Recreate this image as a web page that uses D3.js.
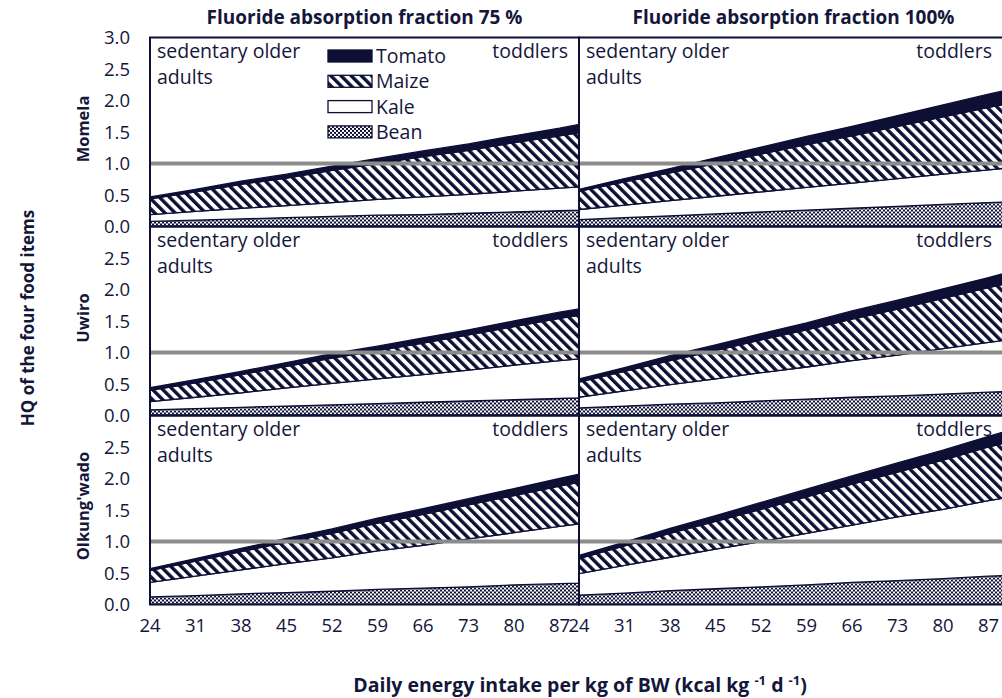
<!DOCTYPE html>
<html>
<head>
<meta charset="utf-8">
<script src="https://cdn.jsdelivr.net/npm/d3@7"></script>
<style>
  body { margin: 0; background: #fff; }
  text { font-family: "Open Sans", "Noto Sans", sans-serif; fill: #14163a; }
</style>
</head>
<body>
<div id="chart"></div>
<script>
// x values (daily energy intake, kcal/kg/d) where HQ values were read
const intake = [24, 31, 38, 45, 52, 59, 66, 73, 80, 87, 90];
const xTicks = [24, 31, 38, 45, 52, 59, 66, 73, 80, 87];
const sites = ["Momela", "Uwiro", "Olkung'wado"];
const fractions = ["Fluoride absorption fraction 75 %", "Fluoride absorption fraction 100%"];
const foods = ["Bean", "Kale", "Maize", "Tomato"]; // stacked bottom -> top
const legendFoods = ["Tomato", "Maize", "Kale", "Bean"];

// Momela
const momela75Bean   = [0.08, 0.10, 0.12, 0.14, 0.16, 0.18, 0.19, 0.21, 0.23, 0.25, 0.26];
const momela75Kale   = [0.11, 0.14, 0.17, 0.19, 0.22, 0.25, 0.28, 0.30, 0.33, 0.36, 0.37];
const momela75Maize  = [0.25, 0.31, 0.38, 0.44, 0.51, 0.57, 0.64, 0.70, 0.77, 0.83, 0.86];
const momela75Tomato = [0.03, 0.04, 0.05, 0.06, 0.07, 0.08, 0.09, 0.10, 0.11, 0.12, 0.13];
const momela100Bean   = [0.11, 0.14, 0.17, 0.20, 0.23, 0.26, 0.29, 0.32, 0.35, 0.38, 0.39];
const momela100Kale   = [0.16, 0.20, 0.24, 0.28, 0.32, 0.36, 0.40, 0.44, 0.48, 0.52, 0.54];
const momela100Maize  = [0.29, 0.37, 0.44, 0.52, 0.60, 0.68, 0.75, 0.83, 0.91, 0.99, 1.02];
const momela100Tomato = [0.03, 0.05, 0.07, 0.09, 0.11, 0.13, 0.15, 0.17, 0.19, 0.21, 0.22];
// Uwiro
const uwiro75Bean   = [0.09, 0.11, 0.13, 0.15, 0.17, 0.19, 0.21, 0.23, 0.25, 0.27, 0.28];
const uwiro75Kale   = [0.13, 0.18, 0.23, 0.29, 0.34, 0.39, 0.44, 0.49, 0.55, 0.60, 0.62];
const uwiro75Maize  = [0.18, 0.23, 0.29, 0.34, 0.40, 0.45, 0.50, 0.56, 0.61, 0.67, 0.69];
const uwiro75Tomato = [0.04, 0.05, 0.05, 0.06, 0.07, 0.07, 0.08, 0.08, 0.09, 0.10, 0.10];
const uwiro100Bean   = [0.12, 0.15, 0.18, 0.20, 0.23, 0.26, 0.29, 0.31, 0.34, 0.37, 0.38];
const uwiro100Kale   = [0.17, 0.24, 0.31, 0.38, 0.45, 0.51, 0.58, 0.65, 0.72, 0.79, 0.82];
const uwiro100Maize  = [0.24, 0.31, 0.38, 0.45, 0.52, 0.59, 0.66, 0.73, 0.80, 0.87, 0.90];
const uwiro100Tomato = [0.05, 0.06, 0.08, 0.09, 0.10, 0.11, 0.13, 0.14, 0.15, 0.16, 0.17];
// Olkung'wado
const olk75Bean   = [0.12, 0.14, 0.17, 0.19, 0.21, 0.24, 0.26, 0.28, 0.31, 0.33, 0.34];
const olk75Kale   = [0.23, 0.31, 0.38, 0.46, 0.53, 0.61, 0.68, 0.76, 0.83, 0.91, 0.94];
const olk75Maize  = [0.19, 0.24, 0.29, 0.34, 0.39, 0.44, 0.49, 0.54, 0.59, 0.64, 0.66];
const olk75Tomato = [0.03, 0.04, 0.05, 0.06, 0.07, 0.08, 0.09, 0.10, 0.11, 0.12, 0.13];
const olk100Bean   = [0.15, 0.18, 0.22, 0.25, 0.28, 0.31, 0.35, 0.38, 0.41, 0.45, 0.46];
const olk100Kale   = [0.34, 0.44, 0.53, 0.63, 0.72, 0.82, 0.91, 1.01, 1.10, 1.20, 1.24];
const olk100Maize  = [0.24, 0.31, 0.38, 0.44, 0.51, 0.58, 0.65, 0.71, 0.78, 0.85, 0.88];
const olk100Tomato = [0.05, 0.06, 0.08, 0.09, 0.11, 0.12, 0.13, 0.15, 0.16, 0.17, 0.18];

const panels = [
  { row: 0, col: 0, series: [momela75Bean, momela75Kale, momela75Maize, momela75Tomato], legend: true },
  { row: 0, col: 1, series: [momela100Bean, momela100Kale, momela100Maize, momela100Tomato] },
  { row: 1, col: 0, series: [uwiro75Bean, uwiro75Kale, uwiro75Maize, uwiro75Tomato] },
  { row: 1, col: 1, series: [uwiro100Bean, uwiro100Kale, uwiro100Maize, uwiro100Tomato] },
  { row: 2, col: 0, series: [olk75Bean, olk75Kale, olk75Maize, olk75Tomato] },
  { row: 2, col: 1, series: [olk100Bean, olk100Kale, olk100Maize, olk100Tomato] },
];

const width = 1002, height = 698;
const navy = "#0d0f35";
const colX = [150, 579];
const rowY = [37.5, 226.5, 415.5];
const pw = 429, ph = 189;

const svg = d3.select("#chart").append("svg")
  .attr("width", width).attr("height", height)
  .attr("viewBox", [0, 0, width, height]);

// patterns
const defs = svg.append("defs");
const hatch = defs.append("pattern")
  .attr("id", "hatch").attr("patternUnits", "userSpaceOnUse")
  .attr("width", 7.2).attr("height", 7.2)
  .attr("patternTransform", "rotate(-45)");
hatch.append("rect").attr("width", 7.2).attr("height", 7.2).attr("fill", "#fff");
hatch.append("rect").attr("width", 3.4).attr("height", 7.2).attr("fill", navy);

const checker = defs.append("pattern")
  .attr("id", "checker").attr("patternUnits", "userSpaceOnUse")
  .attr("width", 4).attr("height", 4);
checker.append("rect").attr("width", 4).attr("height", 4).attr("fill", "#fff");
checker.append("rect").attr("width", 2).attr("height", 2).attr("fill", navy);
checker.append("rect").attr("x", 2).attr("y", 2).attr("width", 2).attr("height", 2).attr("fill", navy);

const fills = { Bean: "url(#checker)", Kale: "#fff", Maize: "url(#hatch)", Tomato: navy };

const x = d3.scaleLinear().domain([24, 90]).range([0, pw]);
const y = d3.scaleLinear().domain([0, 3]).range([ph, 0]);

const area = d3.area()
  .x((d) => x(d.data.x))
  .y0((d) => y(d[0]))
  .y1((d) => y(d[1]));

const labelSize = 19.5;

panels.forEach((p, i) => {
  const g = svg.append("g").attr("transform", `translate(${colX[p.col]},${rowY[p.row]})`);

  defs.append("clipPath").attr("id", "clip" + i)
    .append("rect").attr("width", pw).attr("height", ph);

  const rows = intake.map((v, j) => {
    const r = { x: v };
    foods.forEach((f, k) => (r[f] = p.series[k][j]));
    return r;
  });
  const stacked = d3.stack().keys(foods)(rows);

  g.append("g").attr("clip-path", `url(#clip${i})`)
    .selectAll("path")
    .data(stacked)
    .enter()
    .append("path")
    .attr("d", area)
    .attr("fill", (d) => fills[d.key])
    .attr("stroke", navy)
    .attr("stroke-width", 1.3);

  // HQ = 1 reference
  g.append("line")
    .attr("x1", 0).attr("x2", pw)
    .attr("y1", y(1)).attr("y2", y(1))
    .attr("stroke", "#8c8c8c").attr("stroke-width", 4);

  g.append("text").attr("x", 7).attr("y", 20.5).attr("font-size", labelSize).text("sedentary older");
  g.append("text").attr("x", 7).attr("y", 46.5).attr("font-size", labelSize).text("adults");
  g.append("text").attr("x", p.col === 0 ? 418 : 413).attr("y", 20.5)
    .attr("text-anchor", "end").attr("font-size", labelSize).text("toddlers");

  g.append("rect").attr("width", pw).attr("height", ph)
    .attr("fill", "none").attr("stroke", navy).attr("stroke-width", 2);

  if (p.legend) {
    const lg = g.append("g").attr("transform", "translate(178,12.5)");
    legendFoods.forEach((f, k) => {
      const row = lg.append("g").attr("transform", `translate(0,${k * 25.3})`);
      row.append("rect").attr("width", 44).attr("height", 12)
        .attr("fill", fills[f]).attr("stroke", navy).attr("stroke-width", 1.3);
      row.append("text").attr("x", 48).attr("y", 13).attr("font-size", labelSize).text(f);
    });
  }
});

// y axes
rowY.forEach((ry, r) => {
  const ticks = r === 0 ? [0, 0.5, 1, 1.5, 2, 2.5, 3] : [0, 0.5, 1, 1.5, 2, 2.5];
  svg.append("g").selectAll("text").data(ticks).enter().append("text")
    .attr("x", 130).attr("y", (d) => ry + y(d) + 6.5)
    .attr("text-anchor", "end").attr("font-size", 18.5)
    .text((d) => d3.format(".1f")(d));

  const cy = [129, 318, 506][r];
  svg.append("text")
    .attr("transform", `translate(89,${cy}) rotate(-90)`)
    .attr("text-anchor", "middle").attr("font-size", 16.5).attr("font-weight", "bold")
    .text(sites[r]);
});

// x axes
colX.forEach((cx) => {
  svg.append("g").selectAll("text").data(xTicks).enter().append("text")
    .attr("x", (d) => cx + x(d)).attr("y", 632)
    .attr("text-anchor", "middle").attr("font-size", 18.5)
    .text((d) => d);
});

// column titles
fractions.forEach((t, c) => {
  svg.append("text").attr("x", colX[c] + pw / 2).attr("y", 24)
    .attr("text-anchor", "middle").attr("font-size", 19).attr("font-weight", "bold")
    .text(t);
});

svg.append("text")
  .attr("transform", "translate(34,318) rotate(-90)")
  .attr("text-anchor", "middle").attr("font-size", 17).attr("font-weight", "bold")
  .text("HQ of the four food items");

const xt = svg.append("text").attr("x", 580).attr("y", 692)
  .attr("text-anchor", "middle").attr("font-size", 19.5).attr("font-weight", "bold");
xt.append("tspan").text("Daily energy intake per kg of BW (kcal kg ");
xt.append("tspan").attr("dy", -7).attr("font-size", 13).text("-1");
xt.append("tspan").attr("dy", 7).text(" d ");
xt.append("tspan").attr("dy", -7).attr("font-size", 13).text("-1");
xt.append("tspan").attr("dy", 7).text(")");
</script>
</body>
</html>
